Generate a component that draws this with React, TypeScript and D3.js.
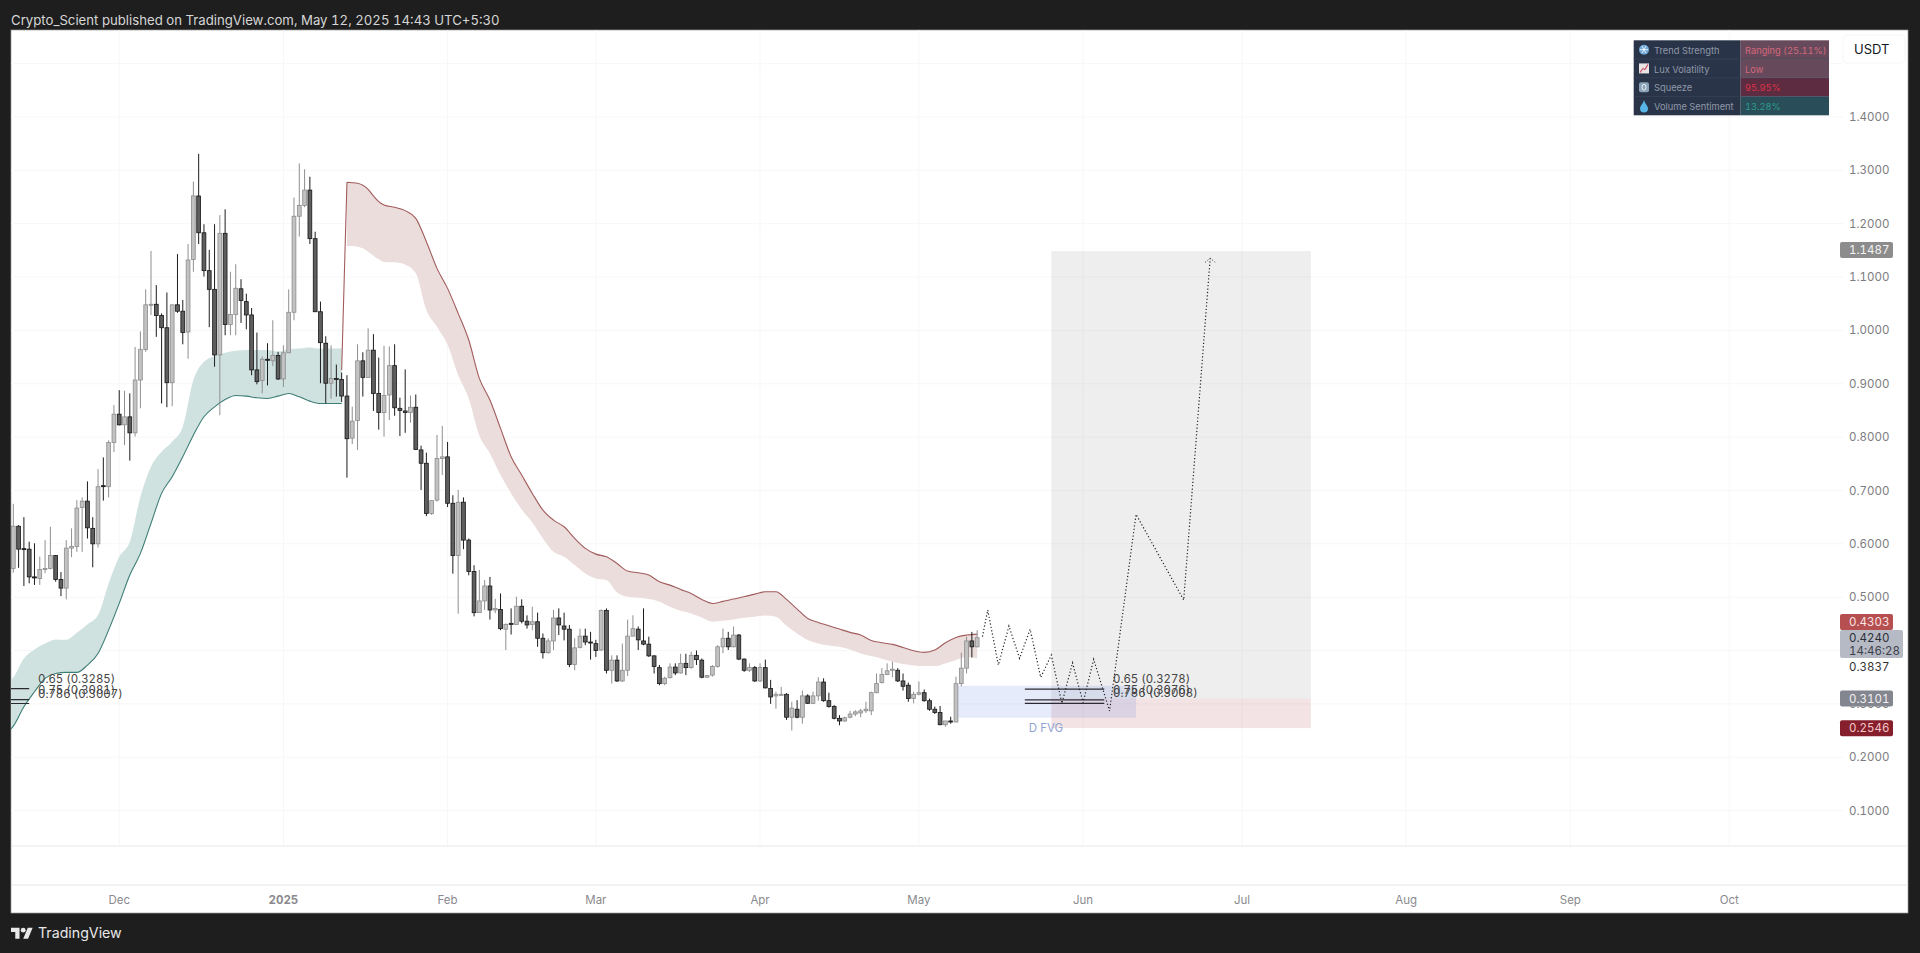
import * as d3 from "d3";
import React from "react";

const WIDTH = 1920;
const HEIGHT = 953;
const FONT = "Inter, 'Noto Sans', sans-serif";

// daily candles, first bar is 2024-11-11
const firstDay = new Date(Date.UTC(2024, 10, 11));
const opens = [
  0.554, 0.633, 0.591, 0.59, 0.538, 0.535, 0.553, 0.554, 0.578, 0.533,
  0.517, 0.592, 0.595, 0.668, 0.68, 0.629, 0.6, 0.709, 0.707, 0.79,
  0.843, 0.823, 0.838, 0.808, 0.907, 0.964, 1.048, 1.049, 1.028, 1.005,
  0.902, 1.048, 1.036, 0.997, 1.133, 1.252, 1.183, 1.112, 1.077, 0.954,
  1.182, 1.011, 1.03, 1.078, 1.054, 1.029, 0.926, 0.906, 0.946, 0.943,
  0.953, 0.909, 0.958, 1.034, 1.214, 1.234, 1.263, 1.172, 1.035, 0.976,
  0.901, 0.91, 0.908, 0.877, 0.798, 0.831, 0.943, 0.912, 0.963, 0.882,
  0.846, 0.879, 0.934, 0.854, 0.849, 0.846, 0.856, 0.776, 0.751, 0.657,
  0.682, 0.76, 0.763, 0.676, 0.578, 0.678, 0.607, 0.548, 0.471, 0.493,
  0.521, 0.476, 0.477, 0.44, 0.451, 0.449, 0.483, 0.455, 0.449, 0.454,
  0.423, 0.396, 0.418, 0.461, 0.446, 0.44, 0.374, 0.406, 0.427, 0.416,
  0.413, 0.401, 0.475, 0.363, 0.382, 0.343, 0.363, 0.427, 0.44, 0.418,
  0.412, 0.39, 0.368, 0.338, 0.349, 0.369, 0.358, 0.376, 0.368, 0.391,
  0.382, 0.35, 0.354, 0.37, 0.407, 0.423, 0.407, 0.429, 0.384, 0.363,
  0.368, 0.343, 0.368, 0.329, 0.315, 0.317, 0.318, 0.275, 0.29, 0.275,
  0.315, 0.301, 0.315, 0.341, 0.306, 0.295, 0.273, 0.268, 0.275, 0.281,
  0.283, 0.287, 0.287, 0.321, 0.34, 0.355, 0.363, 0.363, 0.343, 0.335,
  0.31, 0.318, 0.321, 0.306, 0.29, 0.284, 0.261, 0.268, 0.266, 0.338,
  0.367, 0.418, 0.407,
];
const highs = [
  0.675, 0.635, 0.65, 0.604, 0.601, 0.576, 0.607, 0.632, 0.579, 0.547,
  0.607, 0.629, 0.682, 0.687, 0.717, 0.65, 0.74, 0.762, 0.794, 0.86,
  0.888, 0.887, 0.882, 0.969, 0.998, 1.077, 1.149, 1.085, 1.032, 1.071,
  1.048, 1.143, 1.057, 1.162, 1.279, 1.331, 1.199, 1.151, 1.199, 1.216,
  1.227, 1.11, 1.124, 1.096, 1.069, 1.042, 0.996, 0.951, 0.976, 1.019,
  0.96, 0.972, 1.077, 1.249, 1.313, 1.302, 1.288, 1.185, 1.054, 0.989,
  0.972, 0.936, 0.921, 0.916, 0.857, 0.974, 0.959, 1.004, 0.993, 0.949,
  0.971, 0.97, 0.974, 0.874, 0.927, 0.878, 0.88, 0.784, 0.771, 0.682,
  0.804, 0.821, 0.791, 0.691, 0.701, 0.687, 0.61, 0.56, 0.551, 0.532,
  0.538, 0.497, 0.507, 0.451, 0.479, 0.501, 0.496, 0.466, 0.482, 0.471,
  0.432, 0.423, 0.476, 0.479, 0.471, 0.448, 0.423, 0.441, 0.441, 0.435,
  0.42, 0.477, 0.479, 0.391, 0.391, 0.413, 0.458, 0.466, 0.445, 0.479,
  0.426, 0.391, 0.373, 0.351, 0.376, 0.376, 0.394, 0.394, 0.398, 0.4,
  0.385, 0.354, 0.373, 0.41, 0.441, 0.435, 0.445, 0.431, 0.385, 0.376,
  0.371, 0.376, 0.383, 0.345, 0.323, 0.332, 0.32, 0.304, 0.307, 0.325,
  0.318, 0.323, 0.35, 0.348, 0.321, 0.298, 0.279, 0.276, 0.287, 0.288,
  0.291, 0.304, 0.323, 0.357, 0.367, 0.376, 0.379, 0.367, 0.357, 0.34,
  0.323, 0.342, 0.327, 0.31, 0.295, 0.296, 0.268, 0.276, 0.351, 0.396,
  0.426, 0.435, 0.438,
];
const lows = [
  0.546, 0.555, 0.521, 0.526, 0.523, 0.523, 0.545, 0.552, 0.529, 0.502,
  0.496, 0.575, 0.585, 0.585, 0.61, 0.556, 0.593, 0.681, 0.687, 0.772,
  0.822, 0.785, 0.756, 0.801, 0.854, 0.96, 1.029, 0.988, 0.863, 0.856,
  0.858, 1.033, 0.974, 0.947, 1.11, 1.162, 1.101, 1.006, 0.932, 0.841,
  0.991, 0.991, 0.991, 1.014, 1.002, 0.916, 0.899, 0.882, 0.897, 0.933,
  0.907, 0.894, 0.958, 1.019, 1.176, 1.231, 1.162, 1.035, 0.901, 0.863,
  0.872, 0.876, 0.866, 0.724, 0.787, 0.776, 0.876, 0.912, 0.849, 0.814,
  0.801, 0.832, 0.84, 0.802, 0.808, 0.827, 0.776, 0.701, 0.652, 0.654,
  0.679, 0.729, 0.669, 0.544, 0.469, 0.59, 0.541, 0.464, 0.471, 0.476,
  0.458, 0.47, 0.438, 0.401, 0.43, 0.448, 0.451, 0.441, 0.438, 0.407,
  0.385, 0.394, 0.401, 0.429, 0.419, 0.369, 0.363, 0.404, 0.41, 0.383,
  0.388, 0.399, 0.357, 0.338, 0.341, 0.341, 0.352, 0.427, 0.401, 0.41,
  0.388, 0.357, 0.335, 0.335, 0.348, 0.354, 0.357, 0.354, 0.366, 0.373,
  0.348, 0.349, 0.351, 0.368, 0.395, 0.401, 0.406, 0.382, 0.36, 0.36,
  0.341, 0.341, 0.329, 0.3, 0.291, 0.315, 0.27, 0.25, 0.273, 0.263,
  0.3, 0.3, 0.306, 0.304, 0.293, 0.271, 0.26, 0.266, 0.273, 0.277,
  0.275, 0.283, 0.279, 0.32, 0.338, 0.354, 0.35, 0.341, 0.325, 0.304,
  0.301, 0.316, 0.304, 0.287, 0.281, 0.26, 0.257, 0.263, 0.266, 0.333,
  0.357, 0.387, 0.406,
];
const closes = [
  0.633, 0.59, 0.59, 0.538, 0.537, 0.552, 0.554, 0.578, 0.533, 0.517,
  0.592, 0.595, 0.667, 0.68, 0.63, 0.6, 0.707, 0.708, 0.79, 0.843,
  0.823, 0.838, 0.808, 0.907, 0.964, 1.048, 1.049, 1.028, 1.005, 0.902,
  1.048, 1.036, 0.996, 1.132, 1.252, 1.183, 1.112, 1.077, 0.954, 1.182,
  1.011, 1.03, 1.079, 1.056, 1.029, 0.926, 0.904, 0.946, 0.944, 0.953,
  0.909, 0.958, 1.034, 1.214, 1.234, 1.263, 1.172, 1.035, 0.977, 0.901,
  0.91, 0.908, 0.877, 0.797, 0.83, 0.943, 0.912, 0.963, 0.882, 0.846,
  0.878, 0.934, 0.855, 0.85, 0.846, 0.856, 0.777, 0.751, 0.657, 0.681,
  0.76, 0.763, 0.676, 0.578, 0.678, 0.607, 0.548, 0.471, 0.493, 0.521,
  0.476, 0.479, 0.441, 0.449, 0.449, 0.483, 0.455, 0.448, 0.454, 0.423,
  0.396, 0.418, 0.461, 0.448, 0.44, 0.374, 0.405, 0.427, 0.416, 0.414,
  0.4, 0.475, 0.363, 0.382, 0.343, 0.363, 0.427, 0.441, 0.42, 0.412,
  0.39, 0.37, 0.338, 0.348, 0.369, 0.358, 0.376, 0.368, 0.391, 0.383,
  0.35, 0.353, 0.37, 0.407, 0.423, 0.407, 0.429, 0.384, 0.363, 0.368,
  0.343, 0.368, 0.33, 0.313, 0.318, 0.318, 0.275, 0.292, 0.275, 0.315,
  0.301, 0.315, 0.341, 0.306, 0.295, 0.273, 0.268, 0.274, 0.281, 0.285,
  0.287, 0.29, 0.321, 0.338, 0.355, 0.362, 0.365, 0.343, 0.333, 0.31,
  0.318, 0.321, 0.306, 0.29, 0.284, 0.261, 0.268, 0.266, 0.338, 0.367,
  0.418, 0.407, 0.424,
];

// bullish band, edges read every second bar
const greenDays = [-1, ...d3.range(0, 63, 2)];
const greenUpper = [
  0.3396, 0.3496, 0.3852, 0.4021, 0.4133, 0.4208, 0.4202, 0.4333, 0.449, 0.4665, 0.5258, 0.5758, 0.604, 0.6883, 0.7446,
  0.7727, 0.7915, 0.8193, 0.9069, 0.9412, 0.9518, 0.9581, 0.9618, 0.9631, 0.9631, 0.9631, 0.96, 0.965, 0.9662, 0.9681,
  0.9656, 0.9662, 0.9662,
];
const greenLower = [
  0.2483, 0.2583, 0.2946, 0.3227, 0.3477, 0.3571, 0.359, 0.359, 0.3727, 0.3946, 0.4383, 0.4883, 0.5415, 0.5821, 0.6383,
  0.6946, 0.7258, 0.7633, 0.8037, 0.8381, 0.8568, 0.8706, 0.8781, 0.8768, 0.8737, 0.8725, 0.8768, 0.8818, 0.8756, 0.8675,
  0.8631, 0.8631, 0.8631,
];

// bearish band, the upper edge has one extra point where it jumps up
const redDays = [63, 64, 65, 66, 67, 68, 69, 70, ...d3.range(72, 183, 2)];
const redJump = { day: 62, value: 0.9256 };
const redUpper = [
  1.2776, 1.2769, 1.2757, 1.272, 1.2645, 1.252, 1.2413, 1.2351, 1.2307, 1.2245, 1.2101, 1.1663, 1.1163, 1.0788, 1.032,
  0.982, 0.9101, 0.8695, 0.8164, 0.7632, 0.7289, 0.6945, 0.6632, 0.6445, 0.632, 0.6101, 0.5914, 0.5807, 0.5757, 0.5632,
  0.5489, 0.5457, 0.5414, 0.5289, 0.5226, 0.5145, 0.5071, 0.4958, 0.4883, 0.4921, 0.4965, 0.5008, 0.5058, 0.5102, 0.5102,
  0.4958, 0.4777, 0.4602, 0.4527, 0.4465, 0.4402, 0.434, 0.429, 0.419, 0.4146, 0.4115, 0.4058, 0.3996, 0.3965, 0.4008,
  0.4146, 0.4246, 0.429, 0.4308,
];
const redLower = [
  1.1582, 1.1582, 1.1569, 1.1538, 1.1476, 1.1401, 1.1332, 1.1282, 1.1276, 1.1232, 1.107, 1.0382, 1.0069, 0.973, 0.9164,
  0.8726, 0.803, 0.7695, 0.7289, 0.6945, 0.6645, 0.6401, 0.6101, 0.5851, 0.5757, 0.5601, 0.5445, 0.5351, 0.532, 0.5089,
  0.5007, 0.4989, 0.4964, 0.4914, 0.482, 0.4745, 0.4696, 0.4621, 0.454, 0.4558, 0.4583, 0.4615, 0.4633, 0.4658, 0.4633,
  0.4465, 0.4321, 0.4196, 0.4134, 0.4096, 0.4071, 0.4021, 0.3946, 0.3896, 0.3846, 0.379, 0.3746, 0.3721, 0.3708, 0.3708,
  0.3758, 0.3821, 0.3877, 0.3852,
];

// drawn projection
const projectionDays = [183, 184, 186, 188, 190, 192, 194, 196, 198, 200, 202, 204, 207, 212, 221, 226];
const projectionValues = [
  0.426, 0.4759, 0.3728, 0.4459, 0.3854, 0.4397, 0.3497, 0.3916, 0.301, 0.3771, 0.3022, 0.3835, 0.2866, 0.6553, 0.4947,
  1.1352,
];

// 0.4000 sits fully behind the last price box in the picture
const priceTicks = [0.1, 0.2, 0.3, 0.5, 0.6, 0.7, 0.8, 0.9, 1.0, 1.1, 1.2, 1.3, 1.4];
const gridTicks = d3.range(1, 16).map((d) => d / 10);
const monthTicks = [
  { label: "Dec", date: new Date(Date.UTC(2024, 11, 1)) },
  { label: "2025", date: new Date(Date.UTC(2025, 0, 1)), bold: true },
  { label: "Feb", date: new Date(Date.UTC(2025, 1, 1)) },
  { label: "Mar", date: new Date(Date.UTC(2025, 2, 1)) },
  { label: "Apr", date: new Date(Date.UTC(2025, 3, 1)) },
  { label: "May", date: new Date(Date.UTC(2025, 4, 1)) },
  { label: "Jun", date: new Date(Date.UTC(2025, 5, 1)) },
  { label: "Jul", date: new Date(Date.UTC(2025, 6, 1)) },
  { label: "Aug", date: new Date(Date.UTC(2025, 7, 1)) },
  { label: "Sep", date: new Date(Date.UTC(2025, 8, 1)) },
  { label: "Oct", date: new Date(Date.UTC(2025, 9, 1)) },
];

const fibLeft = { from: -10, to: 3, levels: ["0.65", "0.75", "0.786"], values: [0.3285, 0.3081, 0.3007] };
const fibRight = { from: 191, to: 206, levels: ["0.65", "0.75", "0.786"], values: [0.3278, 0.3076, 0.3008] };

const tradeFrom = 196;
const tradeTo = 245;
const tradeTarget = 1.1487;
const tradeEntry = 0.3101;
const tradeStop = 0.2546;
const fvgFrom = 178;
const fvgTo = 212;
const fvgTop = 0.334;
const fvgBottom = 0.274;

const tableLeft = ["Trend Strength", "Lux Volatility", "Squeeze", "Volume Sentiment"];
const tableRight = ["Ranging (25.11%)", "Low", "95.95%", "13.28%"];
const tableFills = ["#664a5b", "#664a5b", "#5e2c40", "#2a4d5a"];
const tableTexts = ["#d3687c", "#d3687c", "#d8344a", "#2c9c8a"];

const x = d3
  .scaleUtc()
  .domain([firstDay, d3.utcDay.offset(firstDay, 324)])
  .range([13.3, 1729.2]);
const y = d3.scaleLinear().domain([1.4, 0.1]).range([117, 810.6]);
const dayX = (d: number) => x(d3.utcDay.offset(firstDay, d));

const candles = opens.map((open, i) => ({ i, open, high: highs[i], low: lows[i], close: closes[i] }));

const green = greenDays.map((day, i) => ({ day, upper: greenUpper[i], lower: greenLower[i] }));
const red = redDays.map((day, i) => ({ day, upper: redUpper[i], lower: redLower[i] }));

const greenArea = d3
  .area<(typeof green)[number]>()
  .x((d) => dayX(d.day))
  .y0((d) => y(d.lower))
  .y1((d) => y(d.upper))
  .curve(d3.curveMonotoneX);
const redArea = d3
  .area<(typeof red)[number]>()
  .x((d) => dayX(d.day))
  .y0((d) => y(d.lower))
  .y1((d) => y(d.upper))
  .curve(d3.curveMonotoneX);
const edge = d3
  .line<{ day: number; value: number }>()
  .x((d) => dayX(d.day))
  .y((d) => y(d.value));

const greenLine = edge.curve(d3.curveMonotoneX)(green.map((d) => ({ day: d.day, value: d.lower }))) || "";
const redLine =
  edge.curve(d3.curveLinear)([redJump, { day: red[0].day, value: red[0].upper }]) +
  (edge.curve(d3.curveMonotoneX)(red.map((d) => ({ day: d.day, value: d.upper }))) || "");
const projectionLine =
  edge.curve(d3.curveLinear)(projectionDays.map((day, i) => ({ day, value: projectionValues[i] }))) || "";

function Fib({ fib, labelX }: { fib: typeof fibLeft; labelX: number }) {
  return (
    <g>
      {fib.values.map((v, i) => (
        <g key={v}>
          <line x1={dayX(fib.from)} x2={dayX(fib.to)} y1={y(v)} y2={y(v)} stroke="#2a2a30" strokeWidth={1.2} />
          <text x={labelX} y={y(v) - 10} dy="0.35em" fontSize={11.4} fontFamily={FONT} fill="#444">
            {fib.levels[i]} ({v.toFixed(4)})
          </text>
        </g>
      ))}
    </g>
  );
}

function PriceTag({ value, cy, fill, color }: { value: number; cy: number; fill: string; color: string }) {
  return (
    <g>
      <rect x={1840} y={cy - 8} width={53} height={16} rx={2} fill={fill} />
      <text x={1849} y={cy} dy="0.35em" fontSize={11.5} fontFamily={FONT} fill={color}>
        {value.toFixed(4)}
      </text>
    </g>
  );
}

function TableIcon({ row, cx, cy }: { row: number; cx: number; cy: number }) {
  if (row === 0) {
    return (
      <g>
        <circle cx={cx} cy={cy} r={5} fill="#6fa8d8" />
        <path
          d={`M${cx - 4} ${cy}H${cx + 4}M${cx - 2} ${cy - 3.5}L${cx + 2} ${cy + 3.5}M${cx + 2} ${cy - 3.5}L${cx - 2} ${cy + 3.5}`}
          stroke="#e6f2fb"
          strokeWidth={1}
        />
      </g>
    );
  }
  if (row === 1) {
    return (
      <g>
        <rect x={cx - 5} y={cy - 5} width={10} height={10} fill="#e8e4e6" />
        <path d={`M${cx - 4} ${cy + 4}L${cx - 1} ${cy}L${cx + 1} ${cy + 1}L${cx + 4} ${cy - 4}`} fill="none" stroke="#d0566a" strokeWidth={1.2} />
      </g>
    );
  }
  if (row === 2) {
    return (
      <g>
        <rect x={cx - 5} y={cy - 5} width={10} height={10} rx={2} fill="#8aa2b8" />
        <ellipse cx={cx} cy={cy} rx={2} ry={3} fill="none" stroke="#eef2f6" strokeWidth={1} />
      </g>
    );
  }
  return <path d={`M${cx} ${cy - 6}C${cx - 1} ${cy - 2} ${cx - 4} ${cy} ${cx - 4} ${cy + 2.5}A4 4 0 0 0 ${cx + 4} ${cy + 2.5}C${cx + 4} ${cy} ${cx + 1} ${cy - 2} ${cx} ${cy - 6}Z`} fill="#59b5e6" />;
}

export default function App() {
  const panelLeft = 11;
  const panelRight = 1908;
  const panelTop = 30;
  const panelBottom = 913;
  const separatorY = 846;
  const timeAxisY = 885;
  const tableX = 1633.7;
  const tableSplit = 1740.7;
  const tableEnd = 1829;
  const tableY = 40.3;
  const rowH = 18.75;

  return (
    <svg width={WIDTH} height={HEIGHT} style={{ position: "absolute", left: 0, top: 0, display: "block", fontFeatureSettings: '"tnum"' }}>
      <defs>
        <clipPath id="plot">
          <rect x={panelLeft} y={panelTop} width={1832} height={separatorY - panelTop} />
        </clipPath>
      </defs>
      <rect width={WIDTH} height={HEIGHT} fill="#1e1e1e" />
      <text x={11} y={24.5} fontSize={13.2} fontFamily={FONT} fill="#d6d6d6">
        Crypto_Scient published on TradingView.com, May 12, 2025 14:43 UTC+5:30
      </text>
      <rect x={panelLeft} y={panelTop} width={panelRight - panelLeft} height={panelBottom - panelTop} fill="#fff" stroke="#9a9a9a" strokeWidth={0.7} />

      <g stroke="#f7f7f8" strokeWidth={1}>
        {gridTicks.map((t) => (
          <line key={t} x1={panelLeft} x2={1843} y1={y(t)} y2={y(t)} />
        ))}
        {monthTicks.map((m) => (
          <line key={m.label} x1={x(m.date)} x2={x(m.date)} y1={panelTop} y2={separatorY} />
        ))}
      </g>
      <line x1={panelLeft} x2={panelRight} y1={separatorY} y2={separatorY} stroke="#e6e6e8" />
      <line x1={panelLeft} x2={panelRight} y1={timeAxisY} y2={timeAxisY} stroke="#e6e6e8" />

      <g clipPath="url(#plot)">
        <rect x={dayX(tradeFrom)} y={y(tradeTarget)} width={dayX(tradeTo) - dayX(tradeFrom)} height={y(tradeEntry) - y(tradeTarget)} fill="rgba(120,120,120,0.125)" />
        <rect x={dayX(tradeFrom)} y={y(tradeEntry)} width={dayX(tradeTo) - dayX(tradeFrom)} height={y(tradeStop) - y(tradeEntry)} fill="rgba(160,40,50,0.13)" />
        <rect x={dayX(fvgFrom)} y={y(fvgTop)} width={dayX(fvgTo) - dayX(fvgFrom)} height={y(fvgBottom) - y(fvgTop)} fill="rgba(60,100,235,0.13)" />
        <text x={(dayX(fvgFrom) + dayX(fvgTo)) / 2} y={y(tradeStop)} dy="0.35em" textAnchor="middle" fontSize={11.5} fontFamily={FONT} fill="#8fa3d2">
          D FVG
        </text>

        <path d={greenArea(green) || ""} fill="#cfe2df" />
        <path d={greenLine} fill="none" stroke="#3d7d76" strokeWidth={1.1} />
        <path d={redArea(red) || ""} fill="#ecdddd" />
        <path d={redLine} fill="none" stroke="#a25c5c" strokeWidth={1.1} />

        {candles.map((c) => {
          const bull = c.close >= c.open;
          const cx = dayX(c.i);
          const top = y(Math.max(c.open, c.close));
          const bodyH = Math.max(1, y(Math.min(c.open, c.close)) - top);
          return (
            <g key={c.i}>
              <line x1={cx} x2={cx} y1={y(c.high)} y2={y(c.low)} stroke={bull ? "#8f8f8f" : "#1c1c1c"} strokeWidth={1} />
              <rect
                x={cx - 1.9}
                y={top}
                width={3.8}
                height={bodyH}
                fill={bull ? "#c2c2c2" : "#5e5e5e"}
                stroke={bull ? "#8c8c8c" : "#161616"}
                strokeWidth={0.8}
              />
            </g>
          );
        })}

        <Fib fib={fibLeft} labelX={38} />
        <Fib fib={fibRight} labelX={1113} />

        <path d={projectionLine} fill="none" stroke="#222" strokeWidth={1.2} strokeDasharray="1.2 2.2" />
        <path
          d={`M${dayX(226) - 5} ${y(1.1352) + 4}L${dayX(226)} ${y(1.1352)}L${dayX(226) + 5} ${y(1.1352) + 4}`}
          fill="none"
          stroke="#222"
          strokeWidth={1}
          strokeDasharray="1 2"
        />
      </g>

      <g fontFamily={FONT} fontSize={11.5} fill="#7c7c80">
        {priceTicks.map((t) => (
          <text key={t} x={1849} y={y(t)} dy="0.35em">
            {t.toFixed(4)}
          </text>
        ))}
      </g>
      <g fontFamily={FONT} fontSize={11.5} fill="#8a8a8e" textAnchor="middle">
        {monthTicks.map((m) => (
          <text key={m.label} x={x(m.date)} y={900} dy="0.35em" fontWeight={m.bold ? 700 : 400}>
            {m.label}
          </text>
        ))}
      </g>

      <PriceTag value={0.4303} cy={622} fill="#b64f50" color="#fbe4e4" />
      <rect x={1840} y={630} width={63} height={28} rx={2} fill="#b6bac4" />
      <text x={1849} y={638} dy="0.35em" fontSize={11.5} fontFamily={FONT} fill="#2a2e39">
        0.4240
      </text>
      <text x={1849} y={651} dy="0.35em" fontSize={11.5} fontFamily={FONT} fill="#3c404a">
        14:46:28
      </text>
      <text x={1849} y={667} dy="0.35em" fontSize={11.5} fontFamily={FONT} fill="#333">
        0.3837
      </text>
      <PriceTag value={tradeEntry} cy={698.6} fill="#84868f" color="#f0f0f2" />
      <PriceTag value={tradeStop} cy={728.2} fill="#861f2c" color="#f6c8c8" />
      <PriceTag value={tradeTarget} cy={250} fill="#8c8c8c" color="#f5f5f5" />

      <rect x={1843} y={35} width={62} height={28} rx={4} fill="#fff" stroke="#f6f6f6" />
      <text x={1871.7} y={49} dy="0.35em" textAnchor="middle" fontSize={13} fontFamily={FONT} fill="#131722">
        USDT
      </text>

      <g fontFamily={FONT} fontSize={9.3}>
        <rect x={tableX} y={tableY} width={tableSplit - tableX} height={rowH * 4} fill="#2a3448" />
        {tableLeft.map((label, i) => (
          <g key={label}>
            <rect x={tableSplit} y={tableY + rowH * i} width={tableEnd - tableSplit} height={rowH} fill={tableFills[i]} />
            <line x1={tableX} x2={tableEnd} y1={tableY + rowH * i} y2={tableY + rowH * i} stroke="#3a4660" strokeWidth={i ? 0.6 : 0} />
            <TableIcon row={i} cx={1644} cy={tableY + rowH * (i + 0.5)} />
            <text x={1654} y={tableY + rowH * (i + 0.5) + 1} dy="0.35em" fill="#8f98a8">
              {label}
            </text>
            <text x={1745} y={tableY + rowH * (i + 0.5) + 1} dy="0.35em" fill={tableTexts[i]}>
              {tableRight[i]}
            </text>
          </g>
        ))}
      </g>

      <g transform="translate(11,927.7) scale(0.61)" fill="#e8e8e8">
        <path d="M14 18H7V7H0V0h14v18zM28 18h-8l7.5-18h8L28 18z" />
        <circle cx={20} cy={4} r={4} />
      </g>
      <text x={38} y={933} dy="0.35em" fontSize={14.2} fontFamily={FONT} fill="#e8e8e8">
        TradingView
      </text>
    </svg>
  );
}
